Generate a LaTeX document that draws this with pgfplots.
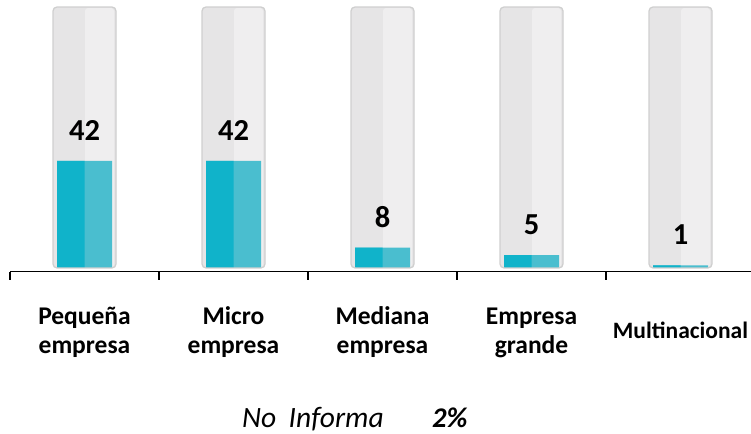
\documentclass[border=0pt]{standalone}
\usepackage{fontspec}
\setmainfont{Carlito}
\usepackage{pgfplots}
\pgfplotsset{compat=1.18}
\definecolor{tubeL}{HTML}{E6E5E6}
\definecolor{tubeR}{HTML}{EFEEEF}
\definecolor{tubeB}{HTML}{CFCFCF}
\definecolor{tealL}{HTML}{10B3CA}
\definecolor{tealR}{HTML}{4ABECF}
\newcommand{\lbl}{\bfseries\fontsize{25.5}{30}\selectfont}
\begin{document}
\begin{tikzpicture}[x=1pt,y=1pt]
\path[use as bounding box] (0,0) rectangle (751,-433);
\begin{axis}[
  at={(10pt,-271.5pt)}, anchor=south west,
  x=149pt, y=2.548pt,
  xmin=-0.5, xmax=4.473, ymin=-1.4, ymax=105.15,
  axis x line*=bottom, hide y axis,
  axis line style={black, line width=1.2pt},
  xtick={-0.5,0.5,1.5,2.5,3.5}, xticklabels={},
  major tick length=8pt, tick align=outside,
  tick style={black, line width=1.2pt},
  /pgf/number format/assume math mode=true,
  clip=false,
]
% tube background
\addplot[ybar, bar width=63pt, bar shift=0pt, fill=tubeL, draw=none, rounded corners=4pt]
  coordinates {(0,102.4) (1,102.4) (2,102.4) (3,102.4) (4,102.4)};
% lighter right half of tube
\addplot[ybar, bar width=29pt, bar shift=15pt, fill=tubeR, draw=none, rounded corners=3pt]
  coordinates {(0,102.0) (1,102.0) (2,102.0) (3,102.0) (4,102.0)};
% teal values, right half
\addplot[ybar, bar width=55pt, bar shift=0pt, fill=tealR, draw=none]
  coordinates {(0,42) (1,42) (2,8) (3,5) (4,1)};
% teal values, left half
\addplot[ybar, bar width=27.5pt, bar shift=-13.75pt, fill=tealL, draw=none]
  coordinates {(0,42) (1,42) (2,8) (3,5) (4,1)};
% tube border
\addplot[ybar, bar width=63pt, bar shift=0pt, fill=none, draw=tubeB, line width=1.3pt, rounded corners=4pt]
  coordinates {(0,102.4) (1,102.4) (2,102.4) (3,102.4) (4,102.4)};
% value labels
\addplot[ybar, bar width=55pt, bar shift=0pt, fill=none, draw=none,
  nodes near coords,
  every node near coord/.append style={anchor=base, yshift=20.5pt, text=black,
     font=\bfseries\fontsize{30.5}{32}\selectfont}]
  coordinates {(0,42) (1,42) (2,8) (3,5) (4,1)};
% category labels
\node[font=\lbl, anchor=base, yshift=-52.5pt] at (axis cs:0,-1.4) {Pequeña};
\node[font=\lbl, anchor=base, yshift=-81.5pt] at (axis cs:0,-1.4) {empresa};
\node[font=\lbl, anchor=base, yshift=-52.5pt] at (axis cs:1,-1.4) {Micro};
\node[font=\lbl, anchor=base, yshift=-81.5pt] at (axis cs:1,-1.4) {empresa};
\node[font=\lbl, anchor=base, yshift=-52.5pt] at (axis cs:2,-1.4) {Mediana};
\node[font=\lbl, anchor=base, yshift=-81.5pt] at (axis cs:2,-1.4) {empresa};
\node[font=\lbl, anchor=base, yshift=-52.5pt] at (axis cs:3,-1.4) {Empresa};
\node[font=\lbl, anchor=base, yshift=-81.5pt] at (axis cs:3,-1.4) {grande};
\node[font=\bfseries\fontsize{23.5}{28}\selectfont, anchor=base, yshift=-66.5pt] at (axis cs:4,-1.4) {Multinacional};
\end{axis}
\node[anchor=base west, inner sep=0pt, font=\itshape\fontsize{29.5}{30}\selectfont] at (242,-427) {No\hskip0.42em Informa};
\node[anchor=base west, inner sep=0pt, font=\bfseries\itshape\fontsize{28.5}{30}\selectfont] at (432,-427) {2\%};
\end{tikzpicture}
\end{document}
